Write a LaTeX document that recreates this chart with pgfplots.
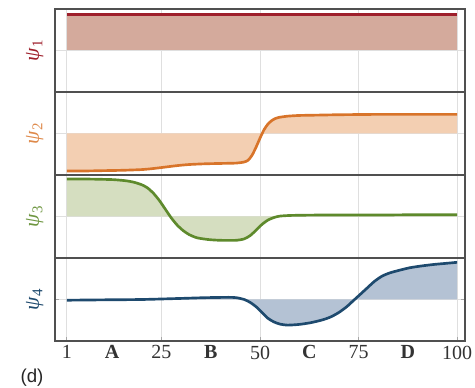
\documentclass[border=0pt]{standalone}
\usepackage{pgfplots}
\pgfplotsset{compat=1.18}
\usepackage{fontspec}
\setmainfont{Liberation Serif}
\newfontfamily\sansf{Liberation Sans}

\definecolor{lineA}{HTML}{9E1F2B}
\definecolor{fillA}{HTML}{D4AA9C}
\definecolor{lineB}{HTML}{D8742A}
\definecolor{fillB}{HTML}{F3CFB2}
\definecolor{lineC}{HTML}{5E8A2C}
\definecolor{fillC}{HTML}{D5DEC0}
\definecolor{lineD}{HTML}{1E4A6E}
\definecolor{fillD}{HTML}{B4C2D4}
\definecolor{frameC}{HTML}{505050}

\pgfplotstableread{
x y
1 1
100 1
}\psiA

\pgfplotstableread{
x y
1 -1.04
5 -1.04
10 -1.03
15 -1.02
20 -1.00
23 -0.97
26 -0.93
29 -0.89
32 -0.86
36 -0.84
40 -0.83
44 -0.82
46 -0.79
47 -0.74
48 -0.60
49 -0.38
50 -0.13
51 0.10
52 0.26
53 0.36
54 0.42
55 0.45
57 0.48
60 0.50
65 0.51
70 0.52
80 0.53
90 0.53
100 0.53
}\psiB

\pgfplotstableread{
x y
1 1.04
5 1.04
10 1.03
13 1.02
16 0.99
18 0.95
20 0.88
21.5 0.79
23 0.64
24.5 0.44
26 0.20
27.5 -0.04
29 -0.24
30.5 -0.39
32 -0.50
34 -0.59
37 -0.64
40 -0.66
44 -0.66
46 -0.62
47.5 -0.53
49 -0.38
50.5 -0.22
52 -0.10
53.5 -0.03
55 0.01
58 0.03
65 0.04
80 0.04
90 0.05
100 0.05
}\psiC

\pgfplotstableread{
x y
1 -0.02
10 -0.01
20 0.00
30 0.03
36 0.05
42 0.06
44 0.05
46 0.00
47.5 -0.08
49 -0.20
50.5 -0.36
52 -0.52
53.5 -0.62
55 -0.68
57 -0.71
60 -0.69
63 -0.64
66 -0.56
68 -0.48
70 -0.36
72 -0.20
73.5 -0.05
75 0.10
77 0.30
79 0.50
81 0.65
83 0.74
85 0.80
88 0.88
91 0.93
94 0.97
97 1.00
100 1.03
}\psiD

\pgfplotsset{
  panel/.style={
    scale only axis,
    width=307.5pt, height=62.25pt,
    anchor=south west,
    xmin=-2, xmax=102, ymin=-1.15, ymax=1.15,
    axis line style={draw=frameC, line width=1.3pt},
    xtick={1,25,50,75,100},
    ytick={0}, yticklabels={},
    major tick length=0pt,
    xmajorgrids, ymajorgrids,
    grid style={draw=gray!25, line width=0.5pt},
    xticklabels={},
  },
  crv/.style={line width=2pt, smooth, tension=0.4},
  fil/.style={draw=none, smooth, tension=0.4},
}

\begin{document}
\begin{tikzpicture}[x=1pt,y=1pt]
\useasboundingbox (0,0) rectangle (356.25,291);

\begin{axis}[panel, at={(41.25pt,222pt)}]
\addplot[fill=fillA, draw=none] table[x=x,y=y] {\psiA} \closedcycle;
\addplot[lineA, line width=2pt] table[x=x,y=y] {\psiA};
\end{axis}

\begin{axis}[panel, at={(41.25pt,159.75pt)}]
\addplot[fil, fill=fillB] table[x=x,y=y] {\psiB} \closedcycle;
\addplot[crv, lineB] table[x=x,y=y] {\psiB};
\end{axis}

\begin{axis}[panel, at={(41.25pt,97.5pt)}]
\addplot[fil, fill=fillC] table[x=x,y=y] {\psiC} \closedcycle;
\addplot[crv, lineC] table[x=x,y=y] {\psiC};
\end{axis}

\begin{axis}[panel, at={(41.25pt,35.25pt)},
  xticklabels={1,25,50,75,100},
  /pgf/number format/assume math mode=true,
  xtick pos=bottom, tick align=inside,
  major tick length=3pt,
  tick style={draw=gray!70, line width=0.5pt},
  extra x ticks={12.5,37.5,62.5,87.5},
  extra x tick labels={\textbf{A},\textbf{B},\textbf{C},\textbf{D}},
  extra x tick style={grid=none, major tick length=0pt},
  xticklabel style={font=\fontsize{15}{18}\selectfont, text=black!80},
  ]
\addplot[fil, fill=fillD] table[x=x,y=y] {\psiD} \closedcycle;
\addplot[crv, lineD] table[x=x,y=y] {\psiD};
\end{axis}

\node[rotate=90, text=lineA, font=\fontsize{16}{18}\selectfont] at (26,253.1) {\textit{ψ}\textsubscript{1}};
\node[rotate=90, text=lineB!85!white, font=\fontsize{16}{18}\selectfont] at (26,190.9) {\textit{ψ}\textsubscript{2}};
\node[rotate=90, text=lineC!90!white, font=\fontsize{16}{18}\selectfont] at (26,128.6) {\textit{ψ}\textsubscript{3}};
\node[rotate=90, text=lineD, font=\fontsize{16}{18}\selectfont] at (26,66.4) {\textit{ψ}\textsubscript{4}};
\node[font=\sansf\fontsize{14}{16}\selectfont, text=black!85] at (24,7.5) {(d)};
\end{tikzpicture}
\end{document}
